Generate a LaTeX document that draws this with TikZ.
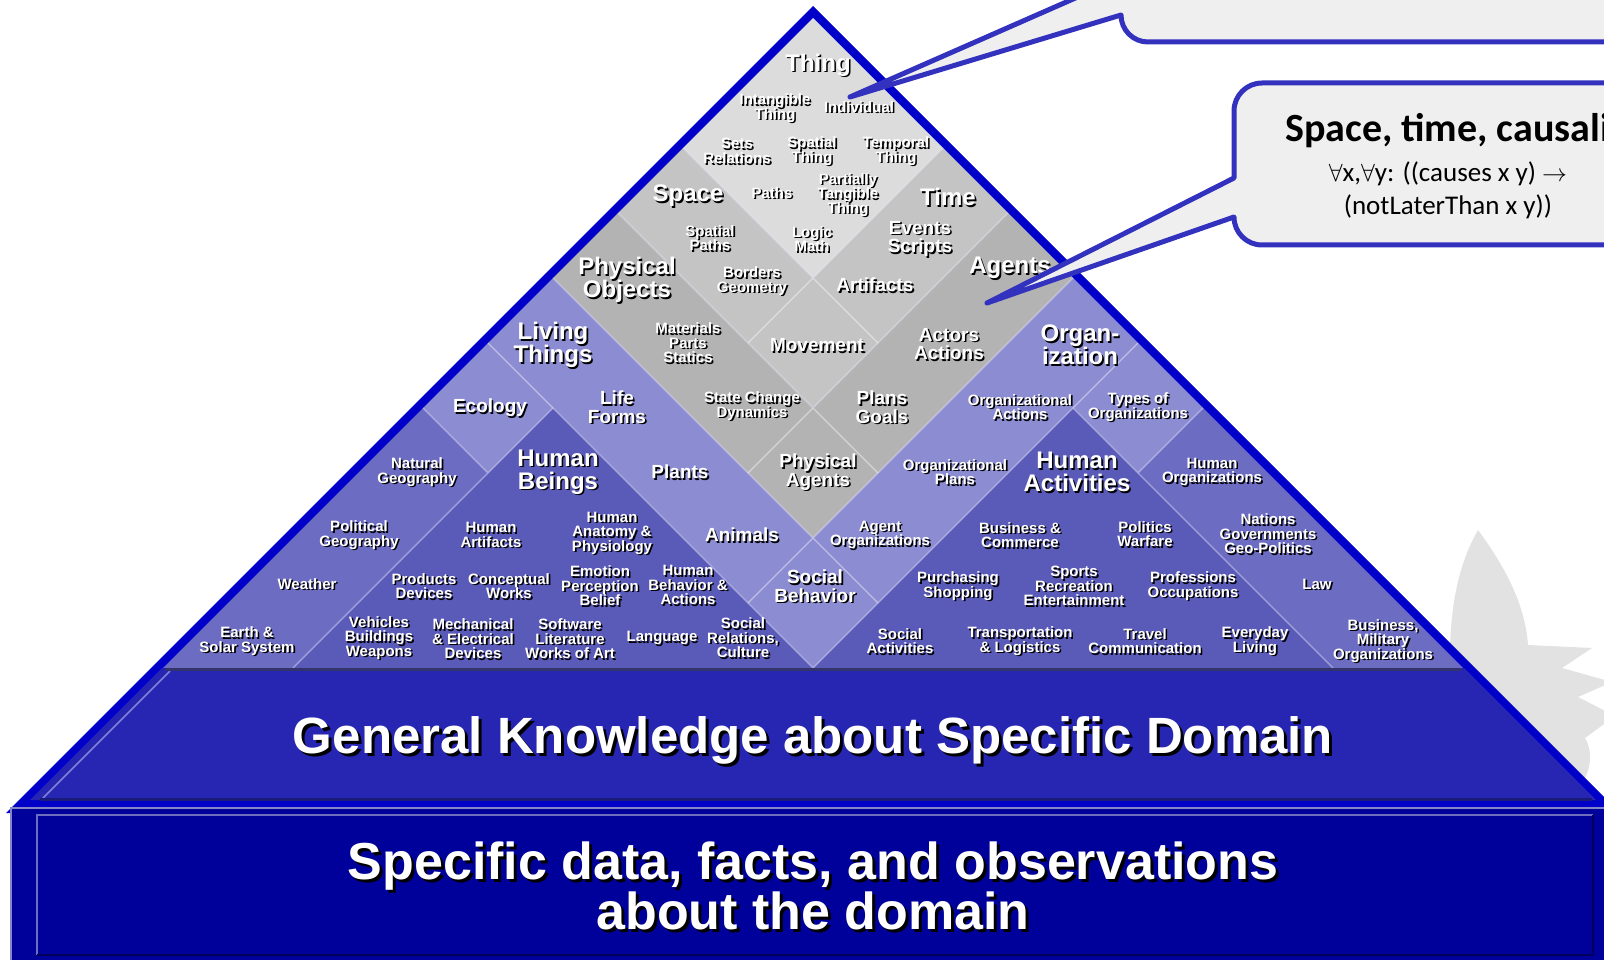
\documentclass[tikz,border=0pt]{standalone}
\usepackage{fontspec}
\setmainfont{Liberation Sans}
\newfontfamily\calfont{Carlito}
\usetikzlibrary{positioning}

\definecolor{tileA}{HTML}{DCDCDC}
\definecolor{tileB}{HTML}{C4C4C4}
\definecolor{tileC}{HTML}{B3B3B3}
\definecolor{tileD}{HTML}{8C8CD2}
\definecolor{tileE}{HTML}{6C6CC3}
\definecolor{tileF}{HTML}{5A5AB9}
\definecolor{rim}{HTML}{0000C8}
\definecolor{midband}{HTML}{2626B3}
\definecolor{baseband}{HTML}{00009A}
\definecolor{calloutline}{HTML}{3232BE}
\definecolor{calloutfill}{HTML}{EFEFEF}
\definecolor{logogray}{HTML}{E2E2E2}

% white label with a dark drop shadow
\newcommand{\pyrlabel}[4][sm]{%
  \node[#1, shadowtxt] (#2-sh) at ([shift={(1.6,1.6)}]#3) {#4};
  \node[#1] (#2) at (#3) {#4};}

\begin{document}
\begin{tikzpicture}[x=1pt, y=-1pt,
  sm/.style={text=white, align=center, inner sep=0pt,
    font=\bfseries\fontsize{15}{14.5}\selectfont},
  md/.style={sm, font=\bfseries\fontsize{19}{18.5}\selectfont},
  lg/.style={sm, font=\bfseries\fontsize{24}{23}\selectfont},
  hg/.style={sm, font=\bfseries\fontsize{51}{48}\selectfont},
  shadowtxt/.style={text=black},
  seam/.style={white, opacity=.45, line width=1.3pt},
  callout/.style={fill=calloutfill, draw=calloutline, line width=5pt, line join=round}]
\useasboundingbox (0,0) rectangle (1604,960);
\clip (0,0) rectangle (1604,960);

% logo in the background
\fill[logogray] (1478,530) .. controls (1500,560) and (1525,600) .. (1528,645)
  -- (1592,648) -- (1562,668) -- (1612,682) -- (1578,697) -- (1615,716) -- (1585,738)
  .. controls (1598,760) and (1585,790) .. (1560,805) -- (1440,805) -- (1450,680)
  .. controls (1448,610) and (1458,565) .. (1478,530) -- cycle;

% pyramid rim
\fill[rim] (813,6) -- (1620,813) -- (6,813) -- cycle;

% tiles, one grid unit = one diamond
\begin{scope}[shift={(813,18)}, x={(65pt,-65pt)}, y={(-65pt,-65pt)}]
  \fill[tileA] (0,0) -- (2,0) -- (2,2) -- (0,2) -- cycle;
  \fill[tileB] (2,0) -- (3,0) -- (3,3) -- (0,3) -- (0,2) -- (2,2) -- cycle;
  \fill[tileC] (3,0) -- (4,0) -- (4,4) -- (0,4) -- (0,3) -- (3,3) -- cycle;
  \fill[tileD] (4,0) -- (6,0) -- (6,1) -- (5,1) -- (5,5) -- (1,5) -- (1,6) -- (0,6)
    -- (0,4) -- (4,4) -- cycle;
  \fill[tileE] (0,6) -- (1,6) -- (1,9) -- (0,10) -- cycle;
  \fill[tileE] (6,0) -- (10,0) -- (9,1) -- (6,1) -- cycle;
  \fill[tileF] (1,5) -- (5,5) -- (1,9) -- cycle;
  \fill[tileF] (5,1) -- (9,1) -- (5,5) -- cycle;
  \foreach \k in {2,3,4}
    \draw[seam] (\k,0) -- (\k,\k+1) (0,\k) -- (\k+1,\k);
  \draw[seam] (5,0) -- (5,5) -- (0,5);
  \draw[seam] (1,5) -- (1,9) (0,6) -- (1,6);
  \draw[seam] (5,1) -- (9,1) (6,0) -- (6,1);
\end{scope}

% general knowledge band
\fill[midband] (162,668) -- (1464,668) -- (1596,800) -- (30,800) -- cycle;
\draw[color={rgb,255:red,128;green,128;blue,216}, line width=1.5pt] (170,671) -- (43,798);
\draw[color={rgb,255:red,26;green,26;blue,120}, line width=3pt] (40,799) -- (1592,799);
\draw[color={rgb,255:red,52;green,52;blue,108}, line width=3pt] (166,669.5) -- (1461,669.5);

% specific data box
\fill[baseband] (10,807) rectangle (1620,970);
\draw[color={rgb,255:red,133;green,133;blue,200}, line width=1.5pt] (11,970) -- (11,808) -- (1620,808);
\draw[color={rgb,255:red,110;green,110;blue,192}, line width=1.5pt] (37,955) -- (37,815) -- (1593,815);
\draw[color={rgb,255:red,0;green,0;blue,90}, line width=2pt] (37,955) -- (1593,955) -- (1593,815);

% labels
\pyrlabel[lg]{thing}{818,65}{Thing}
\pyrlabel{intangible}{775,108}{Intangible\\Thing}
\pyrlabel{individual}{859,107}{Individual}
\pyrlabel{sets}{737,151}{Sets\\Relations}
\pyrlabel{spatialthing}{812,151}{Spatial\\Thing}
\pyrlabel{temporal}{896,151}{Temporal\\Thing}
\pyrlabel[lg]{space}{688,196}{Space}
\pyrlabel{paths}{772,193}{Paths}
\pyrlabel{partial}{848,195}{Partially\\Tangible\\Thing}
\pyrlabel[lg]{time}{948,197}{Time}
\pyrlabel{spatialpaths}{710,238}{Spatial\\Paths}
\pyrlabel{logic}{812,239}{Logic\\Math}
\pyrlabel[md]{events}{920,239}{Events\\Scripts}
\pyrlabel[lg]{physobj}{627,280}{Physical\\Objects}
\pyrlabel{borders}{752,281}{Borders\\Geometry}
\pyrlabel[md]{artifacts}{875,285}{Artifacts}
\pyrlabel[lg]{agents}{1010,268}{Agents}
\pyrlabel[lg]{living}{553,345}{Living\\Things}
\pyrlabel{materials}{688,343}{Materials\\Parts\\Statics}
\pyrlabel[md]{movement}{817,345}{Movement}
\pyrlabel[md]{actors}{949,344}{Actors\\Actions}
\pyrlabel[lg]{organ}{1080,345}{Organ-\\ization}
\pyrlabel[md]{ecology}{490,408}{Ecology}
\pyrlabel[md]{lifeforms}{617,407}{Life\\Forms}
\pyrlabel{statechange}{752,406}{State Change\\Dynamics}
\pyrlabel[md]{plans}{882,407}{Plans\\Goals}
\pyrlabel{orgactions}{1020,407}{Organizational\\Actions}
\pyrlabel{orgtypes}{1138,407}{Types of\\Organizations}
\pyrlabel{natgeo}{417,472}{Natural\\Geography}
\pyrlabel[lg]{humbeings}{558,472}{Human\\Beings}
\pyrlabel[md]{plants}{680,472}{Plants}
\pyrlabel[md]{physagents}{818,472}{Physical\\Agents}
\pyrlabel{orgplans}{955,472}{Organizational\\Plans}
\pyrlabel[lg]{humact}{1077,472}{Human\\Activities}
\pyrlabel{humorg}{1212,472}{Human\\Organizations}
\pyrlabel{polgeo}{359,535}{Political\\Geography}
\pyrlabel{humart}{491,535}{Human\\Artifacts}
\pyrlabel{anatomy}{612,533}{Human\\Anatomy \&\\Physiology}
\pyrlabel[md]{animals}{742,535}{Animals}
\pyrlabel{agentorg}{880,535}{Agent\\Organizations}
\pyrlabel{business}{1020,535}{Business \&\\Commerce}
\pyrlabel{politics}{1145,534}{Politics\\Warfare}
\pyrlabel{nations}{1268,534}{Nations\\Governments\\Geo-Politics}
\pyrlabel{weather}{307,584}{Weather}
\pyrlabel{products}{424,586}{Products\\Devices}
\pyrlabel{conceptual}{509,586}{Conceptual\\Works}
\pyrlabel{emotion}{600,586}{Emotion\\Perception\\Belief}
\pyrlabel{behavior}{688,585}{Human\\Behavior \&\\Actions}
\pyrlabel[md]{socbeh}{815,586}{Social\\Behavior}
\pyrlabel{purchasing}{958,586}{Purchasing\\Shopping}
\pyrlabel{sports}{1074,586}{Sports\\Recreation\\Entertainment}
\pyrlabel{professions}{1193,586}{Professions\\Occupations}
\pyrlabel{law}{1317,584}{Law}
\pyrlabel{earth}{247,641}{Earth \&\\Solar System}
\pyrlabel{vehicles}{379,638}{Vehicles\\Buildings\\Weapons}
\pyrlabel{mechanical}{473,639}{Mechanical\\\& Electrical\\Devices}
\pyrlabel{software}{570,639}{Software\\Literature\\Works of Art}
\pyrlabel{language}{662,638}{Language}
\pyrlabel{socrel}{743,638}{Social\\Relations,\\Culture}
\pyrlabel{socact}{900,641}{Social\\Activities}
\pyrlabel{transport}{1020,641}{Transportation\\\& Logistics}
\pyrlabel{travel}{1145,641}{Travel\\Communication}
\pyrlabel{everyday}{1255,641}{Everyday\\Living}
\pyrlabel{milorg}{1383,641}{Business,\\Military\\Organizations}

\node[hg, shadowtxt, anchor=base] (general-sh) at (816,756) {General Knowledge about Specific Domain};
\node[hg, anchor=base] (general) at (813,753) {General Knowledge about Specific Domain};
\node[hg, shadowtxt, font=\bfseries\fontsize{52}{48}\selectfont] (specific-sh) at (816,889)
  {Specific data, facts, and observations\\about the domain};
\node[hg, font=\bfseries\fontsize{52}{48}\selectfont] (specific) at (813,886)
  {Specific data, facts, and observations\\about the domain};

% callouts
\draw[callout] (1700,42) -- (1148,42) arc[start angle=90, end angle=180, radius=27]
  -- (850,97) -- (1121,-22) -- (1121,-60) -- (1700,-60) -- cycle;
\draw[callout] (1700,83) -- (1262,83) arc[start angle=270, end angle=180, radius=28]
  -- (1234,178) -- (987,303) -- (1234,217) arc[start angle=180, end angle=90, radius=28]
  -- (1700,245) -- cycle;
\node[font=\calfont\bfseries\fontsize{40}{42}\selectfont, anchor=base] (causal) at (1464,142)
  {Space, time, causality};
\node[font=\calfont\fontsize{27}{34}\selectfont, anchor=base] (causes) at (1448,182)
  {$\forall$x,$\forall$y: ((causes x y) $\rightarrow$};
\node[font=\calfont\fontsize{27}{34}\selectfont, anchor=base] (later) at (1448,215)
  {(notLaterThan x y))};
\end{tikzpicture}
\end{document}
